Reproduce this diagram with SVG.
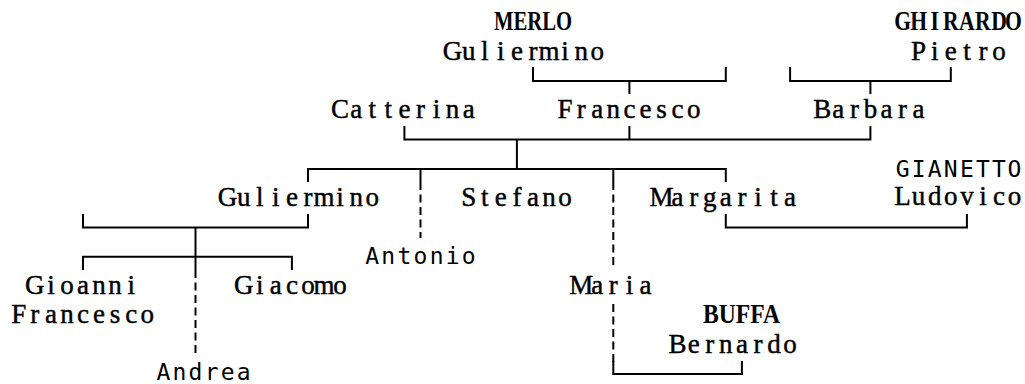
<svg xmlns="http://www.w3.org/2000/svg" width="1025" height="384" viewBox="0 0 1025 384">
<style>
  text { fill: #000; }
  .s { font-family: "Liberation Serif", "DejaVu Serif", serif; font-size: 27px; text-anchor: middle; stroke: #000; stroke-width: 0.45; }
  .u { font-family: "Liberation Serif", "DejaVu Serif", serif; font-size: 27px; font-weight: bold; }
  .uc { font-family: "Liberation Serif", "DejaVu Serif", serif; font-size: 27px; font-weight: bold; text-anchor: middle; }
  .m { font-family: "DejaVu Sans Mono", "Liberation Mono", monospace; font-size: 23px; text-anchor: middle; }
  .ln { fill: none; stroke: #000; stroke-width: 2; }
  .dl { fill: none; stroke: #000; stroke-width: 2; stroke-dasharray: 8 4.5; }
</style>
<rect width="1025" height="384" fill="#fff"/>

<g id="connectors">
  <path class="ln" d="M533 67 V81 H725.8 V67 M629.4 81 V94"/>
  <path class="ln" d="M790.1 67 V81 H950.8 V67 M870.4 81 V94"/>
  <path class="ln" d="M404.4 126 V139.6 H870.4 V126 M629.4 126 V139.6 M516.9 139.6 V168.9"/>
  <path class="ln" d="M308 182 V168.9 H725.8 V182 M420.5 168.9 V182 M613.3 168.9 V182"/>
  <path class="dl" d="M420.5 182 V238"/>
  <path class="dl" d="M613.3 182 V268"/>
  <path class="dl" d="M613.3 304 V362"/>
  <path class="ln" d="M613.3 361 V374 H741.9 V361"/>
  <path class="ln" d="M725.8 214 V227.5 H966.9 V214"/>
  <path class="ln" d="M83 214 V227.5 H308 V214 M195.5 227.5 V270"/>
  <path class="ln" d="M83 270 V256.8 H291.9 V270"/>
  <path class="dl" d="M195.5 270 V354"/>
</g>

<g id="merlo-guliermino">
  <text class="u" x="494" y="30.4" textLength="78" lengthAdjust="spacingAndGlyphs">MERLO</text>
  <text class="s" x="452.6 468.7 484.8 500.8 516.9 533.0 549.0 565.1 581.2 597.3" y="59.7">Guliermino</text>
</g>
<g id="ghirardo-pietro">
  <text class="uc" transform="scale(0.8 1)" x="1128.25 1148.25 1168.4 1188.5 1208.6 1228.6 1248.75 1266.9" y="30.4">GHIRARDO</text>
  <text class="s" x="918.6 934.7 950.8 966.9 982.9 999.0" y="59.7">Pietro</text>
</g>
<g id="catterina">
  <text class="s" x="340.1 356.2 372.3 388.3 404.4 420.5 436.6 452.6 468.7" y="118.3">Catterina</text>
</g>
<g id="francesco">
  <text class="s" x="565.1 581.2 597.3 613.3 629.4 645.5 661.6 677.6 693.7" y="118.3">Francesco</text>
</g>
<g id="barbara">
  <text class="s" x="822.2 838.3 854.4 870.4 886.5 902.6 918.6" y="118.3">Barbara</text>
</g>
<g id="guliermino">
  <text class="s" x="227.6 243.7 259.8 275.8 291.9 308.0 324.1 340.1 356.2 372.3" y="206.2">Guliermino</text>
</g>
<g id="antonio">
  <text class="m" x="372.3 388.3 404.4 420.5 436.6 452.6 468.7" y="264">Antonio</text>
</g>
<g id="stefano">
  <text class="s" x="468.7 484.8 500.8 516.9 533.0 549.0 565.1" y="206.2">Stefano</text>
</g>
<g id="maria">
  <text class="s" x="581.2 597.3 613.3 629.4 645.5" y="294.1">Maria</text>
</g>
<g id="margarita">
  <text class="s" x="661.5 677.6 693.7 709.8 725.8 741.9 758.0 774.1 790.1" y="206.2">Margarita</text>
</g>
<g id="gianetto-ludovico">
  <text class="m" x="902.6 918.6 934.7 950.8 966.9 982.9 999.0 1014.5" y="176.5">GIANETTO</text>
  <text class="s" x="902.6 918.6 934.7 950.8 966.9 982.9 999.0 1014.5" y="204.5">Ludovico</text>
</g>
<g id="buffa-bernardo">
  <text class="u" x="703" y="323.4" textLength="77" lengthAdjust="spacingAndGlyphs">BUFFA</text>
  <text class="s" x="677.6 693.7 709.8 725.8 741.9 758.0 774.1 790.1" y="352.7">Bernardo</text>
</g>
<g id="gioanni-francesco">
  <text class="s" x="34.8 50.9 66.9 83.0 99.1 115.1 131.2" y="294.1">Gioanni</text>
  <text class="s" x="18.7 34.8 50.9 66.9 83.0 99.1 115.1 131.2 147.3" y="323.4">Francesco</text>
</g>
<g id="giacomo">
  <text class="s" x="243.7 259.8 275.8 291.9 308.0 324.1 340.1" y="294.1">Giacomo</text>
</g>
<g id="andrea">
  <text class="m" x="163.4 179.4 195.5 211.6 227.6 243.7" y="380">Andrea</text>
</g>
</svg>
